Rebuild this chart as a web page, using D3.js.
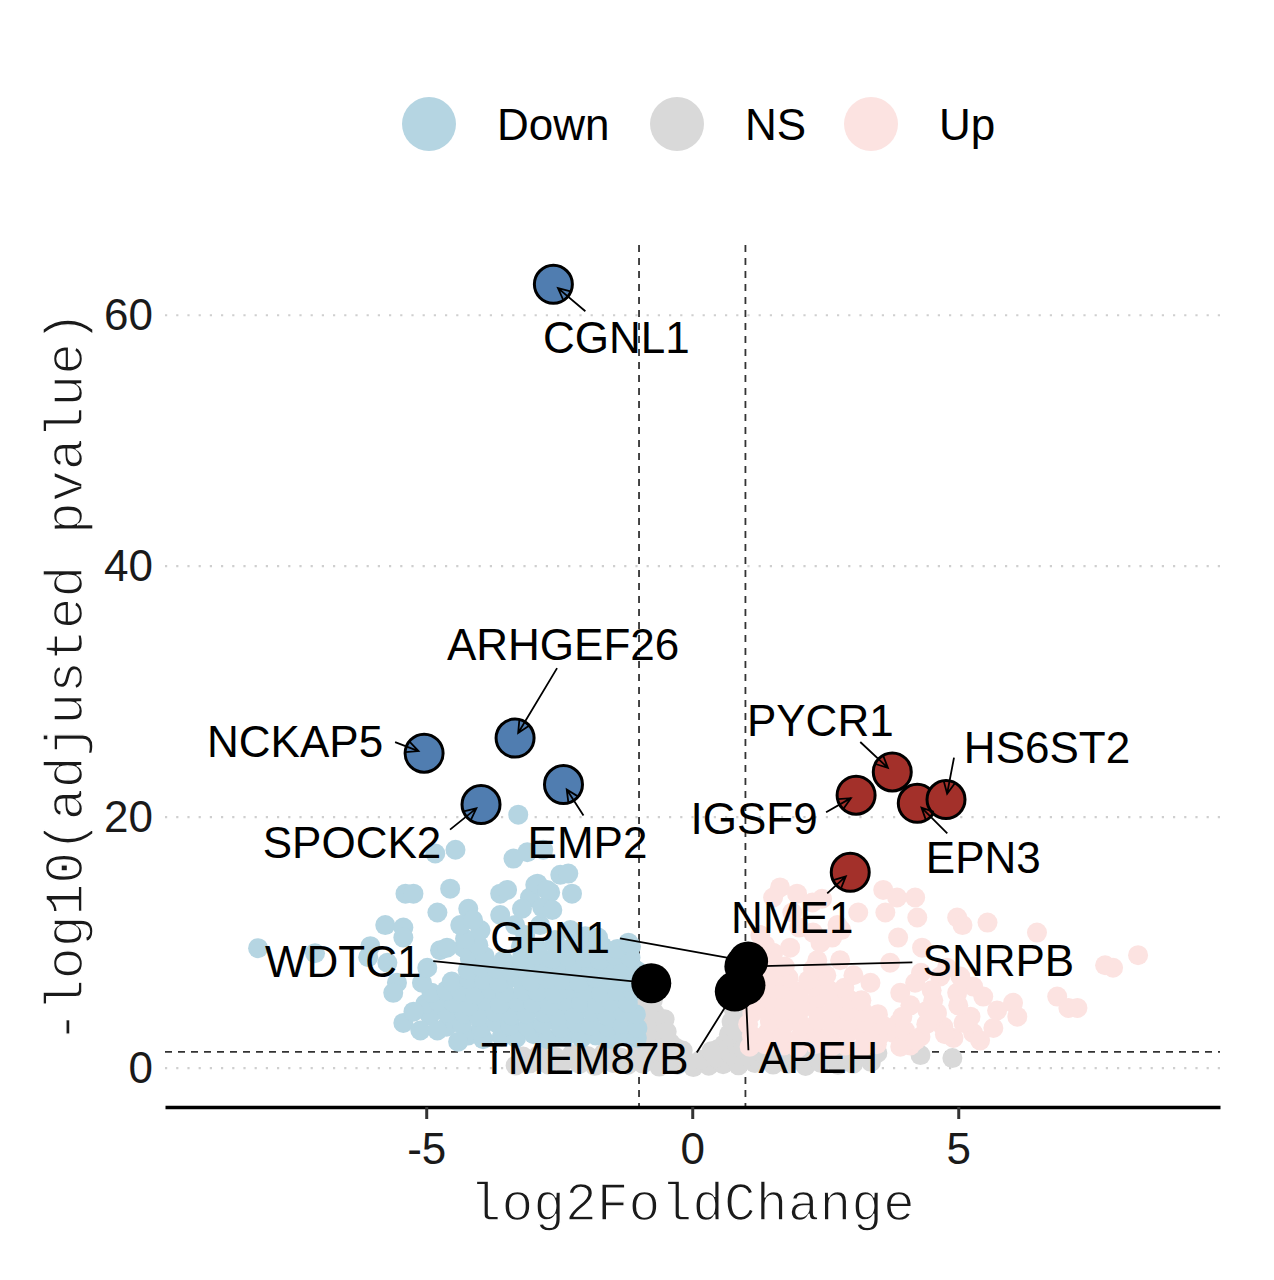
<!DOCTYPE html>
<html>
<head>
<meta charset="utf-8">
<script src="https://cdn.jsdelivr.net/npm/d3@7"></script>
<style>
  body { margin: 0; background: #fff; }
  svg text { font-family: "Liberation Sans", Arial, Helvetica, sans-serif; }
</style>
</head>
<body>
<svg id="chart" width="1274" height="1280"></svg>
<script>
// ---- data: [log2FoldChange, -log10(padj)] ----
const nsGenes = [
  [-3.32,0.21],[-3.05,0.38],[-2.71,0.29],[-2.44,0.45],[-2.12,0.33],[-1.83,0.18],[-1.49,0.41],[-1.21,0.27],
  [-0.93,0.36],[-0.62,0.12],[-0.28,0.25],[0.02,0.08],[0.31,0.19],[0.58,0.31],[0.87,0.22],[1.18,0.40],
  [1.52,0.28],[1.79,0.35],[2.13,0.17],[2.41,0.43],[2.74,0.26],[3.02,0.34],[3.36,0.50],
  [-3.18,0.92],[-2.88,1.05],[-2.57,0.88],[-2.26,1.12],[-1.97,0.97],[-1.66,1.18],[-1.35,0.85],[-1.07,1.08],
  [-0.78,1.21],[-0.47,0.95],[-0.15,0.74],[0.16,0.66],[0.45,0.82],[0.73,1.10],[1.03,0.94],[1.34,1.15],
  [1.65,0.89],[1.96,1.06],[2.27,0.98],[2.58,1.13],[2.88,0.90],[3.20,1.02],
  [3.48,1.2],[4.29,1.04],[4.89,0.8],
  [-0.95,5.9],[-0.88,5.0],[-0.93,4.0],[-0.9,3.0],[-0.94,2.0],[-0.97,1.5],[-0.74,5.4],[-0.71,4.4],
  [-0.66,3.4],[-0.69,2.3],[-0.52,3.9],[-0.48,2.9],[-0.41,2.0],[-0.3,1.6],[-0.18,1.4],[-0.6,1.6],
  [0.96,5.3],[0.91,4.3],[0.97,3.3],[0.92,2.3],[0.95,1.5],[0.78,4.7],[0.74,3.7],[0.69,2.7],
  [0.6,1.9],[0.48,1.5],[0.36,1.35],[0.85,5.8],[0.83,3.0]
];

const downGenes = [
  [-4.21,2.6],[-3.93,2.3],[-3.58,2.5],[-3.31,2.4],[-2.98,2.7],[-2.72,2.3],[-2.39,2.5],[-2.08,2.4],[-1.81,2.6],[-1.52,2.3],[-1.27,2.5],[-1.04,2.4],
  [-4.62,3.3],[-4.33,3.5],[-3.97,3.2],[-3.68,3.6],[-3.42,3.4],[-3.09,3.3],[-2.81,3.5],[-2.47,3.2],[-2.18,3.6],[-1.91,3.4],[-1.58,3.3],[-1.33,3.5],[-1.03,3.2],
  [-4.93,4.2],[-4.61,4.4],[-4.28,4.3],[-4.02,4.1],[-3.71,4.5],[-3.39,4.2],[-3.12,4.3],[-2.78,4.4],[-2.51,4.1],[-2.22,4.3],[-1.88,4.5],[-1.61,4.2],[-1.29,4.4],[-1.06,4.3],
  [-5.02,5.1],[-4.77,5.3],[-4.48,5.2],[-4.19,5.0],[-3.88,5.4],[-3.62,5.1],[-3.28,5.3],[-2.99,5.2],[-2.68,5.0],[-2.41,5.4],[-2.09,5.2],[-1.79,5.1],[-1.52,5.3],[-1.21,5.2],
  [-4.90,6.0],[-4.62,6.2],[-4.35,6.1],[-4.08,5.9],[-3.79,6.3],[-3.52,6.0],[-3.18,6.2],[-2.91,6.1],[-2.59,5.9],[-2.31,6.3],[-2.02,6.1],[-1.71,6.0],[-1.42,6.2],[-1.12,6.1],
  [-4.52,6.9],[-4.20,7.1],[-3.91,7.0],[-3.63,6.8],[-3.32,7.2],[-3.02,6.9],[-2.71,7.1],[-2.43,7.0],[-2.12,6.8],[-1.82,7.2],[-1.51,7.0],[-1.23,6.9],[-1.02,7.1],
  [-4.22,7.8],[-3.95,8.0],[-3.68,7.9],[-3.41,7.7],[-3.10,8.1],[-2.80,7.8],[-2.50,8.0],[-2.20,7.9],[-1.90,7.7],[-1.60,8.1],[-1.30,7.9],[-1.05,7.8],
  [-4.18,8.7],[-3.90,8.9],[-3.55,8.6],[-3.20,8.8],[-2.92,9.0],[-2.63,8.7],[-2.33,8.9],[-2.02,8.8],[-1.74,8.6],[-1.45,9.0],[-1.16,8.8],
  [-4.30,9.6],[-4.02,9.8],[-3.22,9.7],[-2.90,9.5],[-2.58,9.9],[-2.27,9.6],[-1.98,9.8],[-1.69,9.7],[-1.41,9.5],[-1.15,9.7],
  [-4.27,10.3],[-3.98,11.0],[-3.33,11.4],[-3.14,10.6],[-2.86,11.4],[-2.58,10.2],[-2.29,11.0],[-2.01,10.5],
  [-8.16,9.56],[-7.09,9.16],[-6.05,9.72],[-6.09,8.84],[-5.77,11.4],[-5.43,11.2],[-5.43,10.4],[-5.39,13.9],
  [-5.24,13.9],[-4.55,14.3],[-4.79,12.4],[-4.21,12.7],[-4.36,11.4],[-4.12,11.8],[-3.61,13.9],[-3.48,14.2],
  [-2.95,14.6],[-3.05,13.6],[-2.67,14.0],[-2.48,15.4],[-2.33,15.5],[-2.26,13.9],[-3.20,12.7],[-2.82,12.8],
  [-2.63,12.6],[-3.61,12.2],[-5.73,8.4],[-5.55,6.8],[-5.62,6.0],[-5.08,6.8],[-4.98,8.0],[-5.43,3.6],
  [-5.11,3.0],[-4.79,3.0],[-4.40,2.1],[-5.24,4.5],[-4.74,9.4],[-4.61,9.6],[-1.20,10.0],[-1.77,10.4],
  [-3.27,20.2],[-4.83,17.1],[-4.45,17.4],[-3.36,16.7],[-3.10,17.2],[-2.80,17.4],[-2.91,14.7],[-2.73,14.2]
];

const upGenes = [
  [1.08,1.7],[1.37,1.9],[1.72,1.8],[1.98,1.6],[2.31,1.9],[2.62,1.7],[2.88,1.8],[3.19,1.6],[3.47,1.9],
  [1.12,2.6],[1.41,2.8],[1.69,2.7],[2.03,2.5],[2.28,2.9],[2.59,2.6],[2.93,2.8],[3.22,2.7],[3.51,2.5],[3.78,2.8],
  [1.05,3.5],[1.46,3.7],[1.77,3.6],[2.06,3.4],[2.37,3.8],[2.66,3.5],[2.97,3.7],[3.27,3.6],[3.58,3.4],[3.88,3.6],
  [1.13,4.4],[1.39,4.6],[1.71,4.5],[1.99,4.3],[2.32,4.7],[2.61,4.4],[2.91,4.6],[3.21,4.5],[3.49,4.3],
  [1.08,5.3],[1.44,5.5],[1.76,5.4],[2.07,5.2],[2.36,5.6],[2.67,5.3],[2.94,5.5],[3.18,5.4],
  [1.12,6.2],[1.42,6.4],[1.73,6.3],[2.01,6.1],[2.29,6.5],[2.58,6.2],[2.86,6.4],
  [1.16,7.1],[1.47,7.3],[1.81,7.2],[2.18,7.0],[2.52,7.4],
  [1.09,8.0],[1.38,8.2],[1.74,8.1],[2.27,7.9],[1.14,8.9],[1.51,9.1],
  [1.65,14.4],[1.97,13.9],[2.26,13.2],[2.44,13.5],[1.52,13.6],[3.59,14.2],[3.85,13.6],[4.19,13.6],
  [3.12,12.4],[3.63,12.4],[4.23,12.0],[4.98,12.0],[5.08,11.4],[5.55,11.6],[6.48,10.8],[3.87,10.4],
  [4.32,9.6],[8.38,9.0],[7.76,8.2],[7.91,8.0],[6.86,5.7],[7.07,4.8],[7.24,4.8],[6.03,5.2],
  [6.11,4.1],[5.73,4.6],[5.66,3.2],[5.28,2.8],[5.41,2.2],[4.91,2.4],[4.72,3.3],[5.23,4.1],
  [5.47,5.7],[5.28,6.5],[4.98,6.0],[4.53,5.4],[4.42,4.6],[4.29,2.5],[4.10,1.8],[3.91,1.7],
  [3.91,6.0],[4.19,6.8],[4.66,7.3],[5.04,7.3],[4.79,8.0],[1.52,9.2],[2.35,8.6],[2.78,8.6],
  [3.03,7.4],[3.72,8.4],[3.35,6.8],[2.41,10.0],[2.73,11.4],[1.88,12.4],[2.01,11.2],[2.27,10.8],
  [2.80,11.0],[2.63,10.4],[1.37,9.8],[1.84,9.6],[1.28,10.6],[4.1,5.0],[4.4,3.5],[4.6,4.4],
  [4.0,3.0],[4.2,2.2],[3.95,4.1],[4.75,2.7],[5.1,3.6],[5.0,5.0],[4.5,6.2],[4.3,7.6]
];

// labelled genes
const geneNames = ['CGNL1','ARHGEF26','NCKAP5','EMP2','SPOCK2','PYCR1','IGSF9','EPN3','HS6ST2','NME1',
                   'WDTC1','GPN1','SNRPB','TMEM87B','APEH'];
const geneLfc   = [-2.61,-3.33,-5.04,-2.42,-3.97,3.76,3.08,4.23,4.77,2.97,-0.77,1.05,0.98,0.80,1.00];
const geneLogP  = [62.47,26.3,25.1,22.6,21.0,23.6,21.75,21.1,21.4,15.6,6.77,8.5,8.1,6.1,6.6];
const geneGroup = ['Down','Down','Down','Down','Down','Up','Up','Up','Up','Up','NS','NS','NS','NS','NS'];

const legendKeys = ['Down', 'NS', 'Up'];
const xTicks = [-5, 0, 5];
const yTicks = [0, 20, 40, 60];
const lfcCut = 1;
const padjCut = 0.05;

// ---- styles ----
const pointCol = { Down: '#b5d5e2', NS: '#d9d9d9', Up: '#fce3e1' };
const highCol = { Down: '#507db0', NS: '#000000', Up: '#a3302a' };

// repelled label layout, pixel offsets from each point: text anchor and segment start
const labelLayout = {
  CGNL1:    { text: [63, 69],   seg: [32, 27] },
  ARHGEF26: { text: [48, -78],  seg: [42, -70] },
  NCKAP5:   { text: [-129, 4],  seg: [-29, -11] },
  EMP2:     { text: [24, 73],   seg: [20, 31] },
  SPOCK2:   { text: [-129, 53], seg: [-31, 25] },
  PYCR1:    { text: [-72, -36], seg: [-32, -30] },
  IGSF9:    { text: [-102, 39], seg: [-30, 17] },
  EPN3:     { text: [66, 70],   seg: [30, 30] },
  HS6ST2:   { text: [101, -37], seg: [8, -42] },
  NME1:     { text: [-58, 61],  seg: [-23, 21] },
  WDTC1:    { text: [-308, -6], seg: [-218, -22] },
  GPN1:     { text: [-198, -8], seg: [-128, -23] },
  SNRPB:    { text: [254, 10],  seg: [168, -4] },
  TMEM87B:  { text: [-150, 82], seg: [-38, 61] },
  APEH:     { text: [73, 88],   seg: [3, 65] }
};

const margin = { top: 245, right: 54, bottom: 173, left: 165 };
const W = 1274, H = 1280;
const width = W - margin.left - margin.right;
const height = H - margin.top - margin.bottom;

const svg = d3.select('#chart');
const g = svg.append('g').attr('transform', `translate(${margin.left},${margin.top})`);

const x = d3.scaleLinear().domain([-9.91, 9.92]).range([0, width]);
const y = d3.scaleLinear().domain([-3.1, 65.6]).range([height, 0]);

// dotted grid
g.selectAll('.grid')
  .data(yTicks)
  .enter()
  .append('line')
  .attr('class', 'grid')
  .attr('x1', 0).attr('x2', width)
  .attr('y1', d => y(d)).attr('y2', d => y(d))
  .attr('stroke', '#cfcfcf')
  .attr('stroke-width', 2.2)
  .attr('stroke-dasharray', '2.2,9');

// threshold lines
g.selectAll('.vcut')
  .data([-lfcCut, lfcCut])
  .enter()
  .append('line')
  .attr('x1', d => x(d)).attr('x2', d => x(d))
  .attr('y1', 0).attr('y2', height)
  .attr('stroke', '#333')
  .attr('stroke-width', 1.8)
  .attr('stroke-dasharray', '7,6');

g.append('line')
  .attr('x1', 0).attr('x2', width)
  .attr('y1', y(-Math.log10(padjCut))).attr('y2', y(-Math.log10(padjCut)))
  .attr('stroke', '#333')
  .attr('stroke-width', 1.8)
  .attr('stroke-dasharray', '7,6');

// background points
let drawCloud = (data, key) => {
  g.append('g')
    .selectAll('circle')
    .data(data)
    .enter()
    .append('circle')
    .attr('cx', d => x(d[0]))
    .attr('cy', d => y(d[1]))
    .attr('r', 10)
    .attr('fill', pointCol[key]);
};
drawCloud(nsGenes, 'NS');
drawCloud(downGenes, 'Down');
drawCloud(upGenes, 'Up');

// highlighted genes
let genes = geneNames.map((name, i) => ({
  name: name,
  px: x(geneLfc[i]),
  py: y(geneLogP[i]),
  group: geneGroup[i]
}));

g.append('g')
  .selectAll('circle')
  .data(genes)
  .enter()
  .append('circle')
  .attr('cx', d => d.px)
  .attr('cy', d => d.py)
  .attr('r', d => d.group === 'NS' ? 20 : 19)
  .attr('fill', d => highCol[d.group])
  .attr('stroke', '#000')
  .attr('stroke-width', d => d.group === 'NS' ? 0 : 3);

// segments with open arrowheads
let arrowPath = d => {
  let lay = labelLayout[d.name];
  let sx = d.px + lay.seg[0], sy = d.py + lay.seg[1];
  let dx = d.px - sx, dy = d.py - sy;
  let len = Math.sqrt(dx * dx + dy * dy);
  let ux = dx / len, uy = dy / len;
  let tx = d.px - ux * 6, ty = d.py - uy * 6;
  let a = Math.PI / 7, L = 13;
  let w1x = tx - L * (ux * Math.cos(a) - uy * Math.sin(a));
  let w1y = ty - L * (uy * Math.cos(a) + ux * Math.sin(a));
  let w2x = tx - L * (ux * Math.cos(a) + uy * Math.sin(a));
  let w2y = ty - L * (uy * Math.cos(a) - ux * Math.sin(a));
  return `M${sx},${sy}L${tx},${ty}M${w1x},${w1y}L${tx},${ty}L${w2x},${w2y}`;
};

g.append('g')
  .selectAll('path')
  .data(genes)
  .enter()
  .append('path')
  .attr('d', arrowPath)
  .attr('fill', 'none')
  .attr('stroke', '#000')
  .attr('stroke-width', 1.8);

g.append('g')
  .selectAll('text')
  .data(genes)
  .enter()
  .append('text')
  .attr('x', d => d.px + labelLayout[d.name].text[0])
  .attr('y', d => d.py + labelLayout[d.name].text[1])
  .attr('text-anchor', 'middle')
  .attr('font-size', 44)
  .attr('fill', '#000')
  .text(d => d.name);

// axes
g.append('g')
  .attr('transform', `translate(0,${height})`)
  .call(d3.axisBottom(x).tickValues(xTicks).tickSize(12).tickSizeOuter(0).tickPadding(14).tickFormat(d3.format('d')))
  .attr('font-family', '"Liberation Sans", Arial, sans-serif')
  .attr('font-size', 44)
  .call(a => a.select('.domain').attr('stroke', '#000').attr('stroke-width', 3.5))
  .call(a => a.selectAll('.tick line').attr('stroke', '#333').attr('stroke-width', 3))
  .call(a => a.selectAll('.tick text').attr('fill', '#1a1a1a').text(d => d < 0 ? '-' + Math.abs(d) : d));

g.append('g')
  .call(d3.axisLeft(y).tickValues(yTicks).tickSize(0).tickPadding(12))
  .attr('font-family', '"Liberation Sans", Arial, sans-serif')
  .attr('font-size', 44)
  .call(a => a.select('.domain').remove())
  .call(a => a.selectAll('.tick text').attr('fill', '#1a1a1a'));

// axis titles (thin courier-like look: white stroke trims the glyphs)
let monoTitle = sel => sel
  .attr('text-anchor', 'middle')
  .style('font-family', '"Liberation Mono", "Courier New", monospace')
  .attr('font-size', 53)
  .attr('fill', '#1a1a1a')
  .attr('stroke', '#fff')
  .attr('stroke-width', 1.4);

svg.append('text')
  .attr('x', margin.left + x(0))
  .attr('y', 1220)
  .call(monoTitle)
  .text('log2FoldChange');

svg.append('text')
  .attr('transform', `translate(82, 677) rotate(-90)`)
  .call(monoTitle)
  .text('-log10(adjusted pvalue)');

// legend
let legendX = [429, 677, 871];
let legend = svg.append('g')
  .selectAll('g')
  .data(legendKeys)
  .enter()
  .append('g')
  .attr('transform', (d, i) => `translate(${legendX[i]}, 124)`);

legend.append('circle')
  .attr('r', 27)
  .attr('fill', d => pointCol[d]);

legend.append('text')
  .attr('x', 68)
  .attr('y', 16)
  .attr('font-size', 44)
  .attr('fill', '#000')
  .text(d => d);
</script>
</body>
</html>
